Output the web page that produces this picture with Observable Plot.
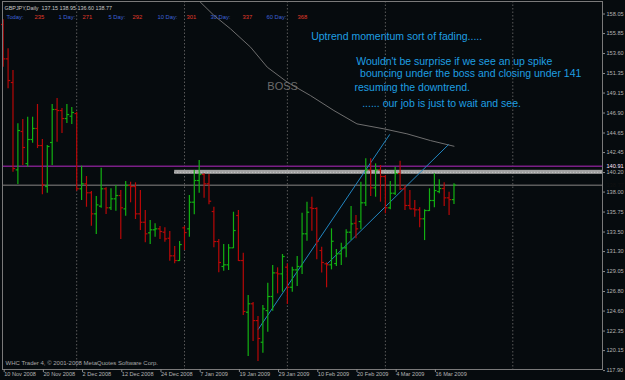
<!DOCTYPE html>
<html><head><meta charset="utf-8">
<script src="https://cdn.jsdelivr.net/npm/d3@7"></script>
<script src="https://cdn.jsdelivr.net/npm/@observablehq/plot@0.6"></script>
<style>
html,body{margin:0;padding:0;background:#060b0e;}
#chart{width:625px;height:380px;overflow:hidden;}
svg{display:block;}
</style></head><body><div id="chart"></div>
<script>
// ---- GBPJPY daily bars (index 0 = 10 Nov 2008) ----
const opens  = [156.87,153.00,150.34,140.50,144.82,141.21,143.92,145.16,143.24,138.62,143.58,147.30,147.18,146.28,146.54,146.84,138.37,138.93,137.92,135.55,136.41,138.37,136.23,137.24,137.61,136.11,138.74,138.62,135.55,134.60,133.41,133.75,133.86,133.48,132.80,130.82,130.29,133.97,133.86,136.86,139.30,139.98,138.93,135.81,132.43,129.62,129.81,131.72,135.36,130.29,124.47,125.42,123.53,121.09,124.66,126.24,128.90,128.79,129.54,127.28,129.24,129.62,133.30,136.23,136.15,131.42,129.92,129.81,129.95,131.05,131.72,133.48,134.49,134.68,136.79,140.50,138.48,140.50,139.75,136.23,137.87,140.09,138.37,136.49,136.11,136.00,134.99,135.92,137.05,138.06,138.40,137.35,137.15];
const highs  = [157.40,154.13,151.69,145.69,146.17,146.43,146.43,147.86,143.92,143.24,147.86,148.53,147.41,147.86,147.52,146.99,140.91,139.75,138.06,137.50,140.69,138.48,138.37,138.74,138.17,139.19,139.11,139.04,138.17,135.92,134.80,134.42,134.12,133.97,133.56,131.87,132.43,134.12,137.61,140.43,141.55,140.05,139.98,136.29,132.66,132.09,132.09,135.73,135.92,131.11,126.35,125.56,123.99,125.22,127.74,129.73,129.47,130.97,129.92,129.54,130.74,135.62,136.86,137.42,136.23,131.79,130.03,133.86,131.53,132.24,133.75,136.37,135.36,139.11,141.74,141.74,141.18,140.99,139.86,139.19,140.80,141.47,138.74,138.17,137.05,136.23,136.00,138.37,140.06,139.38,139.04,137.98,138.95];
const lows   = [152.06,149.63,140.24,138.85,140.99,140.80,143.50,142.90,137.69,137.87,140.99,143.61,144.59,145.72,145.61,138.10,137.05,136.29,134.15,133.22,136.18,135.47,135.92,135.84,132.66,135.28,136.79,134.91,133.67,132.29,132.09,132.92,132.66,132.35,130.21,129.92,130.18,131.42,132.91,135.44,137.87,137.31,136.56,131.72,128.91,129.09,129.17,131.64,130.18,124.10,119.48,121.17,118.92,119.85,122.22,124.58,126.54,126.72,125.34,126.72,127.36,128.72,132.46,133.59,130.37,128.90,127.22,129.24,129.62,129.73,130.60,132.54,132.73,133.75,136.37,137.50,137.42,136.86,135.55,136.00,137.61,138.17,135.92,136.00,135.17,133.97,132.54,135.81,136.23,137.80,136.37,135.36,136.60];
const closes = [153.00,150.56,140.65,144.93,143.02,143.92,145.16,143.24,138.82,143.13,147.30,147.18,146.28,146.73,146.96,138.37,138.93,137.92,135.55,136.56,138.37,136.23,137.24,137.61,136.23,138.74,138.62,135.55,134.60,133.30,133.75,133.86,133.56,132.73,130.82,130.29,132.09,133.44,136.86,139.30,139.98,138.93,136.97,132.43,130.07,129.81,131.72,133.67,130.29,124.55,125.42,123.53,121.51,124.85,126.24,128.90,128.79,130.74,127.28,129.24,129.62,133.30,135.73,136.15,132.46,130.07,129.81,132.46,131.05,131.72,133.48,134.42,133.86,136.79,140.50,138.48,140.50,139.75,136.23,137.87,140.09,138.37,136.49,136.11,136.00,134.99,135.92,137.05,138.17,138.40,137.35,137.15,138.77];

// x axis labels (bar index -> date)
const dateTickIdx = [0,8,16,24,32,40,48,56,64,72,80,88];
const dateTickLabels = ["10 Nov 2008","20 Nov 2008","2 Dec 2008","12 Dec 2008","24 Dec 2008","7 Jan 2009","19 Jan 2009","29 Jan 2009","10 Feb 2009","20 Feb 2009","4 Mar 2009","16 Mar 2009"];
// price axis labels
const priceTicks = [158.05,155.85,153.60,151.35,149.15,146.90,144.65,142.45,140.20,138.00,135.75,133.50,131.30,129.05,126.80,124.60,122.35,120.15,117.90];
// vertical grid (bar index)
const gridIdx = [15,37,58,78,104];
// "BOSS" moving average
const bossIdx = [39.9,43,46.4,50.5,53.9,58,62.7,67.5,72.2,77.7,82.4,87.2,92];
const bossVal = [159.57,157.9,156.38,154.31,152.06,150.37,148.87,147.18,145.68,145.12,144.56,143.80,143.16];
// trend lines
const trendStartIdx = [52,66.1];
const trendStartPrice = [122.5,129.9];
const trendEndIdx = [78.9,90.9];
const trendEndPrice = [144.5,143.35];
// horizontal objects
const purpleLevel = 140.91;
const bidLevel = 138.77;
const bandStartIdx = 35;
const bandLow = 140.0, bandHigh = 140.45;
// header info
const headerLine = "GBPJPY,Daily  137.15 138.95 136.60 138.77";
const rangeLabels = ["Today:","1 Day:","5 Day:","10 Day:","30 Day:","60 Day:"];
const rangeValues = ["235","271","292","301","337","368"];
// annotations (anchored at bar index / price)
const noteText = ["Uptrend momentum sort of fading.....","Wouldn't be surprise if we see an up spike"," bouncing under the boss and closing under 141","resuming the downtrend.","...... our job is just to wait and see."];
const noteIdx = [62.86,72.04,72.24,71.69,73.27];
const notePrice = [155.52,152.70,151.38,149.74,148.0];
const bossLabel = {text:"BOSS", idx:53.9, price:149.89};
const copyright = "WHC Trader 4, © 2001-2008 MetaQuotes Software Corp.";

// ---- build tables ----
const GREEN = "#12b012", RED = "#b80808";
const bars = opens.map((o,i)=>({i, o, h:highs[i], l:lows[i], c:closes[i], col: closes[i]>=o ? GREEN : RED}));
const boss = bossIdx.map((x,k)=>({x, y:bossVal[k]}));
const trends = trendStartIdx.map((x,k)=>({x1:x, y1:trendStartPrice[k], x2:trendEndIdx[k], y2:trendEndPrice[k]}));
const notes = noteText.map((t,k)=>({t, x:noteIdx[k], y:notePrice[k]}));
const xDomain = [-0.14,122.31];
const yDomain = [118.02,159.46];
const FONT = "'Liberation Sans', Arial, sans-serif";

const headerMarks = [];
const labelDx = [4,56,106,155,208,264];
const valueDx = [32,80,130,184,240,295];
rangeLabels.forEach((t,k)=>{
  headerMarks.push(Plot.text([t],{text:d=>d, frameAnchor:"top-left", dx:labelDx[k], dy:13, textAnchor:"start", fill:"#3d62d8", fontSize:5.8}));
  headerMarks.push(Plot.text([rangeValues[k]],{text:d=>d, frameAnchor:"top-left", dx:valueDx[k], dy:13, textAnchor:"start", fill:"#e03a2a", fontSize:5.8}));
});

const plot = Plot.plot({
  width:625, height:380,
  marginLeft:2, marginRight:23, marginTop:1, marginBottom:11,
  x:{domain:xDomain, axis:null},
  y:{domain:yDomain, axis:null},
  color:{type:"identity"},
  style:{background:"#060b0e", color:"#b4b4b4", fontFamily:FONT, fontSize:"5.6px"},
  marks:[
    Plot.ruleX(gridIdx,{x:d=>d, stroke:"#5a5a5a", strokeDasharray:"1.5,2"}),
    Plot.rect([{x1:bandStartIdx, x2:xDomain[1], y1:bandLow, y2:bandHigh}],{x1:"x1",x2:"x2",y1:"y1",y2:"y2", fill:"#a2a2a2"}),
    Plot.ruleY([(bandLow+bandHigh)/2],{y:d=>d, x1:bandStartIdx, x2:xDomain[1], stroke:"#cfcfcf", strokeDasharray:"1,2", strokeWidth:1}),
    Plot.ruleY([purpleLevel],{y:d=>d, stroke:"#7a1f86", strokeWidth:1.6}),
    Plot.ruleY([bidLevel],{y:d=>d, stroke:"#5c5c5c", strokeWidth:1.5}),
    Plot.line(boss,{x:"x", y:"y", stroke:"#6e6e6e", strokeWidth:1, clip:true}),
    Plot.link(trends,{x1:"x1",y1:"y1",x2:"x2",y2:"y2", stroke:"#2286c0", strokeWidth:1}),
    Plot.ruleX(bars,{x:"i", y1:"l", y2:"h", stroke:"col", strokeWidth:1.2}),
    Plot.link(bars,{x1:d=>d.i-0.45, x2:"i", y1:"o", y2:"o", stroke:"col", strokeWidth:1.2}),
    Plot.link(bars,{x1:"i", x2:d=>d.i+0.45, y1:"c", y2:"c", stroke:"col", strokeWidth:1.2}),
    Plot.text(notes,{x:"x", y:"y", text:"t", textAnchor:"start", fill:"#1f9fe2", fontSize:10.5, fontFamily:FONT}),
    Plot.text([bossLabel],{x:"idx", y:"price", text:"text", textAnchor:"start", fill:"#6c6c6c", fontSize:11, fontFamily:FONT}),
    Plot.frame({stroke:"#7a7a7a"}),
    Plot.axisY(priceTicks,{anchor:"right", tickSize:2, tickPadding:2, tickFormat:d=>d.toFixed(2), stroke:"#8a8a8a"}),
    Plot.axisX(dateTickIdx,{anchor:"bottom", tickSize:3, tickPadding:0, textAnchor:"start", dx:1, tickFormat:d=>dateTickLabels[dateTickIdx.indexOf(d)], stroke:"#8a8a8a"}),
    Plot.text([purpleLevel],{y:d=>d, text:d=>d.toFixed(2), frameAnchor:"right", dx:4, textAnchor:"start", fill:"#ffe6ff", ariaLabel:"lvl-purple"}),
    Plot.text([bidLevel],{y:d=>d, text:d=>d.toFixed(2), frameAnchor:"right", dx:4, textAnchor:"start", fill:"#101010", ariaLabel:"lvl-gray"}),
    Plot.text([headerLine],{text:d=>d, frameAnchor:"top-left", dx:2, dy:5, textAnchor:"start", fill:"#c8c8c8", fontSize:5.4}),
    ...headerMarks,
    Plot.text([copyright],{text:d=>d, frameAnchor:"bottom-left", dx:3, dy:-5, textAnchor:"start", fill:"#a8a8a8", fontSize:6})
  ]
});
document.getElementById("chart").append(plot);
// label boxes behind the level labels
[["lvl-purple","#b02cb4"],["lvl-gray","#b4b4b4"]].forEach(([lab,bg])=>{
  plot.querySelectorAll(`g[aria-label="${lab}"] text`).forEach(t=>{
    const b = t.getBBox();
    const r = document.createElementNS("http://www.w3.org/2000/svg","rect");
    r.setAttribute("x", b.x-1.5); r.setAttribute("y", b.y-0.5);
    r.setAttribute("width", b.width+3); r.setAttribute("height", b.height+1);
    r.setAttribute("fill", bg);
    const tr = t.getAttribute("transform"); if (tr) r.setAttribute("transform", tr);
    t.parentNode.insertBefore(r, t);
  });
});
</script></body></html>
